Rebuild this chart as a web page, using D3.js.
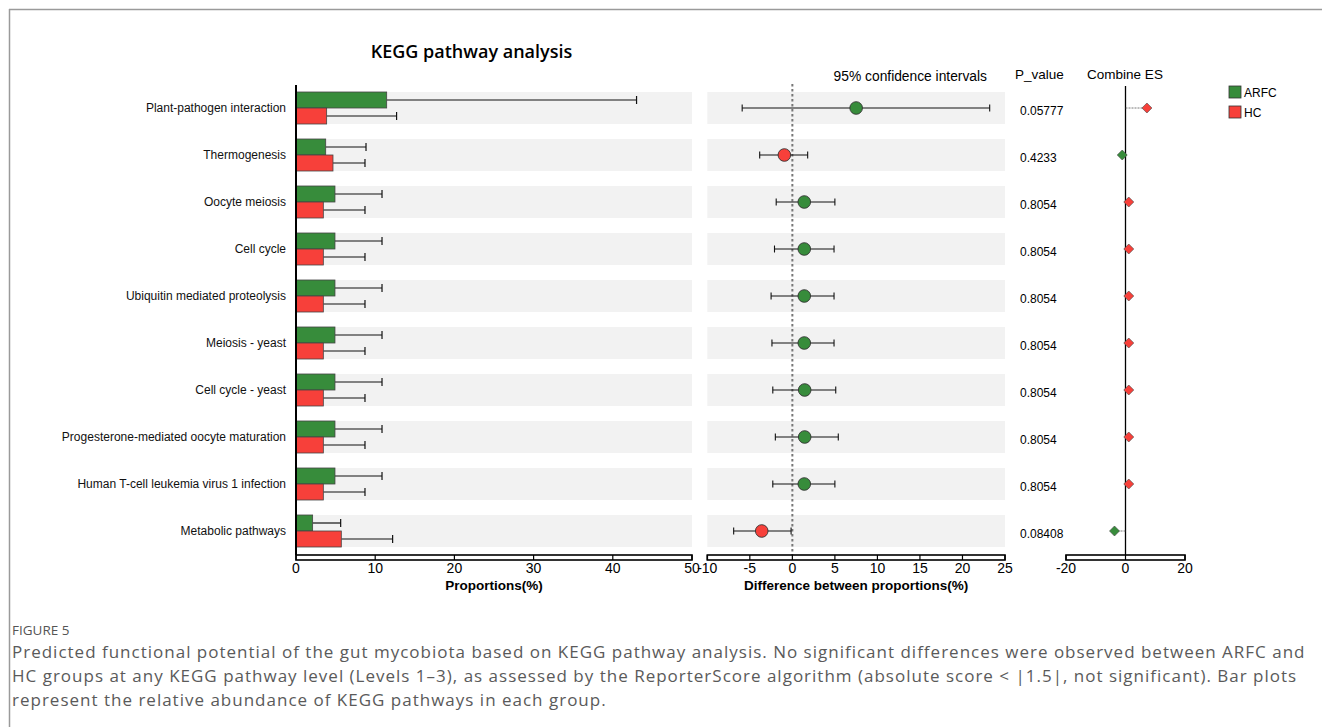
<!DOCTYPE html>
<html>
<head>
<meta charset="utf-8">
<script src="https://cdn.jsdelivr.net/npm/d3@7"></script>
<style>
  html, body { margin: 0; padding: 0; background: #fff; }
  svg { display: block; }
</style>
</head>
<body>
<svg id="chart" width="1322" height="727"></svg>
<script>
// KEGG pathways (top to bottom)
const categories = [
  "Plant-pathogen interaction",
  "Thermogenesis",
  "Oocyte meiosis",
  "Cell cycle",
  "Ubiquitin mediated proteolysis",
  "Meiosis - yeast",
  "Cell cycle - yeast",
  "Progesterone-mediated oocyte maturation",
  "Human T-cell leukemia virus 1 infection",
  "Metabolic pathways"
];
const groups = ["ARFC", "HC"];

// Mean proportions (%) and upper error (%) per group
const arfcMean = [11.45, 3.75, 4.92, 4.92, 4.92, 4.92, 4.92, 4.92, 4.92, 2.1];
const arfcErr  = [43.0, 8.84, 10.86, 10.86, 10.86, 10.86, 10.86, 10.86, 10.86, 5.64];
const hcMean   = [3.87, 4.67, 3.45, 3.45, 3.45, 3.45, 3.45, 3.45, 3.45, 5.72];
const hcErr    = [12.7, 8.71, 8.71, 8.71, 8.71, 8.71, 8.71, 8.71, 8.71, 12.2];

// Difference between proportions with 95% confidence interval
const diffEst   = [7.5, -0.94, 1.4, 1.4, 1.4, 1.4, 1.45, 1.45, 1.4, -3.6];
const diffLower = [-5.9, -3.84, -1.9, -2.1, -2.5, -2.4, -2.3, -2.0, -2.3, -6.9];
const diffUpper = [23.2, 1.8, 5.0, 4.9, 4.9, 4.9, 5.1, 5.4, 5.0, -0.15];

const pValues = ["0.05777", "0.4233", "0.8054", "0.8054", "0.8054", "0.8054", "0.8054", "0.8054", "0.8054", "0.08408"];

// Combined effect size
const combineES = [7.2, -1.1, 1.1, 1.1, 1.1, 1.1, 1.1, 1.1, 1.1, -3.7];

const propTicks = [0, 10, 20, 30, 40, 50];
const diffTicks = [-10, -5, 0, 5, 10, 15, 20, 25];
const esTicks = [-20, 0, 20];

const captionLines = [
  "Predicted functional potential of the gut mycobiota based on KEGG pathway analysis. No significant differences were observed between ARFC and",
  "HC groups at any KEGG pathway level (Levels 1\u20133), as assessed by the ReporterScore algorithm (absolute score < |1.5|, not significant). Bar plots",
  "represent the relative abundance of KEGG pathways in each group."
];

const GREEN = "#378c3b", RED = "#f7403a", BAND = "#f2f2f2";
const FONT = "'Liberation Sans', Arial, sans-serif";

const svg = d3.select("#chart");

// Page frame
svg.append("line").attr("x1", 9).attr("x2", 1322).attr("y1", 9.5).attr("y2", 9.5)
  .attr("stroke", "#9a9a9a").attr("stroke-width", 1.5);
svg.append("line").attr("x1", 9.5).attr("x2", 9.5).attr("y1", 9).attr("y2", 727)
  .attr("stroke", "#9a9a9a").attr("stroke-width", 1.5);

// Shared row scale
const pad = 15 / 47;
const y = d3.scaleBand().domain(categories).range([84.5, 554.5])
  .paddingInner(pad).paddingOuter(pad / 2);
const bw = y.bandwidth();

const axisTop = 555, axisH = 5;

function boxAxis(g, x, ticks, fmt) {
  const [r0, r1] = x.range();
  g.append("rect").attr("x", r0).attr("y", axisTop).attr("width", r1 - r0).attr("height", axisH)
    .attr("fill", "#fff").attr("stroke", "#000").attr("stroke-width", 1.6);
  g.selectAll(".tk").data(ticks).join("line")
    .attr("x1", d => x(d)).attr("x2", d => x(d))
    .attr("y1", axisTop).attr("y2", axisTop + axisH)
    .attr("stroke", "#000").attr("stroke-width", 1.2);
  g.selectAll(".tl").data(ticks).join("text")
    .attr("x", d => x(d)).attr("y", axisTop + 18)
    .attr("text-anchor", "middle").attr("font-family", FONT).attr("font-size", 14)
    .text(fmt || (d => d));
}

// ---------- Left panel: proportions ----------
const xP = d3.scaleLinear().domain([0, 50]).range([296, 692]);
const gL = svg.append("g");

gL.selectAll(".band").data(categories).join("rect")
  .attr("x", xP(0)).attr("width", xP(50) - xP(0))
  .attr("y", d => y(d)).attr("height", bw).attr("fill", BAND);

const barRows = categories.map((c, i) => [
  { cat: c, g: 0, mean: arfcMean[i], err: arfcErr[i] },
  { cat: c, g: 1, mean: hcMean[i], err: hcErr[i] }
]).flat();

gL.selectAll(".errl").data(barRows).join("line")
  .attr("x1", d => xP(d.mean)).attr("x2", d => xP(d.err))
  .attr("y1", d => y(d.cat) + bw / 4 + d.g * bw / 2)
  .attr("y2", d => y(d.cat) + bw / 4 + d.g * bw / 2)
  .attr("stroke", "#111").attr("stroke-width", 1.2);
gL.selectAll(".errc").data(barRows).join("line")
  .attr("x1", d => xP(d.err)).attr("x2", d => xP(d.err))
  .attr("y1", d => y(d.cat) + bw / 4 + d.g * bw / 2 - 4)
  .attr("y2", d => y(d.cat) + bw / 4 + d.g * bw / 2 + 4)
  .attr("stroke", "#111").attr("stroke-width", 1.2);

gL.selectAll(".bar").data(barRows).join("rect")
  .attr("x", xP(0)).attr("width", d => xP(d.mean) - xP(0))
  .attr("y", d => y(d.cat) + d.g * bw / 2).attr("height", bw / 2)
  .attr("fill", d => d.g === 0 ? GREEN : RED)
  .attr("stroke", "#444").attr("stroke-width", 0.8);

// Vertical category axis
gL.append("line").attr("x1", 296).attr("x2", 296).attr("y1", 85).attr("y2", axisTop)
  .attr("stroke", "#000").attr("stroke-width", 2);
gL.selectAll(".cl").data(categories).join("text")
  .attr("x", 286).attr("y", d => y(d) + bw / 2 + 4)
  .attr("text-anchor", "end").attr("font-family", FONT).attr("font-size", 12)
  .attr("fill", "#111").text(d => d);

boxAxis(gL, xP, propTicks);
gL.append("text").attr("x", (xP(0) + xP(50)) / 2).attr("y", 590)
  .attr("text-anchor", "middle").attr("font-family", FONT).attr("font-size", 13.5)
  .attr("font-weight", "bold").text("Proportions(%)");

// Title
svg.append("text").attr("x", 471.5).attr("y", 58).attr("text-anchor", "middle")
  .attr("font-family", "'Open Sans', sans-serif").attr("font-weight", 600)
  .attr("font-size", 18).attr("fill", "#000").text("KEGG pathway analysis");

// ---------- Middle panel: difference & 95% CI ----------
const xD = d3.scaleLinear().domain([-10, 25]).range([707.3, 1005]);
const gM = svg.append("g");

gM.selectAll(".band").data(categories).join("rect")
  .attr("x", xD(-10)).attr("width", xD(25) - xD(-10))
  .attr("y", d => y(d)).attr("height", bw).attr("fill", BAND);

gM.append("line").attr("x1", xD(0)).attr("x2", xD(0)).attr("y1", 84).attr("y2", axisTop)
  .attr("stroke", "#777").attr("stroke-width", 2).attr("stroke-dasharray", "2.5,2.5");

const ciRows = categories.map((c, i) => ({ cat: c, est: diffEst[i], lo: diffLower[i], hi: diffUpper[i] }));
gM.selectAll(".ci").data(ciRows).join("line")
  .attr("x1", d => xD(d.lo)).attr("x2", d => xD(d.hi))
  .attr("y1", d => y(d.cat) + bw / 2).attr("y2", d => y(d.cat) + bw / 2)
  .attr("stroke", "#111").attr("stroke-width", 1.1);
["lo", "hi"].forEach(k => {
  gM.selectAll(".cap-" + k).data(ciRows).join("line")
    .attr("x1", d => xD(d[k])).attr("x2", d => xD(d[k]))
    .attr("y1", d => y(d.cat) + bw / 2 - 3.5).attr("y2", d => y(d.cat) + bw / 2 + 3.5)
    .attr("stroke", "#111").attr("stroke-width", 1.1);
});
gM.selectAll(".pt").data(ciRows).join("circle")
  .attr("cx", d => xD(d.est)).attr("cy", d => y(d.cat) + bw / 2).attr("r", 6.3)
  .attr("fill", d => d.est >= 0 ? GREEN : RED)
  .attr("stroke", "#333").attr("stroke-width", 0.9);

boxAxis(gM, xD, diffTicks);
gM.append("text").attr("x", (xD(-10) + xD(25)) / 2).attr("y", 590)
  .attr("text-anchor", "middle").attr("font-family", FONT).attr("font-size", 13.5)
  .attr("font-weight", "bold").text("Difference between proportions(%)");
gM.append("text").attr("x", 987).attr("y", 81).attr("text-anchor", "end")
  .attr("font-family", FONT).attr("font-size", 13.8).text("95% confidence intervals");

// ---------- P values ----------
svg.append("text").attr("x", 1015).attr("y", 79).attr("font-family", FONT)
  .attr("font-size", 13.5).text("P_value");
svg.selectAll(".pv").data(categories).join("text")
  .attr("x", 1020).attr("y", (d, i) => y(d) + bw / 2 + 7)
  .attr("font-family", FONT).attr("font-size", 12).text((d, i) => pValues[i]);

// ---------- Combined effect size ----------
const xE = d3.scaleLinear().domain([-20, 20]).range([1066, 1185]);
const gE = svg.append("g");
gE.append("text").attr("x", 1125).attr("y", 79).attr("text-anchor", "middle")
  .attr("font-family", FONT).attr("font-size", 13.5).text("Combine ES");
gE.append("line").attr("x1", xE(0)).attr("x2", xE(0)).attr("y1", 86).attr("y2", axisTop)
  .attr("stroke", "#000").attr("stroke-width", 1.3);

const esRows = categories.map((c, i) => ({ cat: c, es: combineES[i] }));
gE.selectAll(".esl").data(esRows).join("line")
  .attr("x1", xE(0)).attr("x2", d => xE(d.es))
  .attr("y1", d => y(d.cat) + bw / 2).attr("y2", d => y(d.cat) + bw / 2)
  .attr("stroke", "#555").attr("stroke-width", 0.8).attr("stroke-dasharray", "2,1");
gE.selectAll(".dm").data(esRows).join("path")
  .attr("transform", d => `translate(${xE(d.es)},${y(d.cat) + bw / 2})`)
  .attr("d", "M0,-5L5,0L0,5L-5,0Z")
  .attr("fill", d => d.es >= 0 ? RED : GREEN)
  .attr("stroke", "#444").attr("stroke-width", 0.6);

boxAxis(gE, xE, esTicks);

// ---------- Legend ----------
const lg = svg.append("g").attr("transform", "translate(1229,86)");
lg.selectAll("rect").data(groups).join("rect")
  .attr("x", 0).attr("y", (d, i) => i * 20).attr("width", 12).attr("height", 12)
  .attr("fill", (d, i) => i === 0 ? GREEN : RED).attr("stroke", "#333").attr("stroke-width", 0.8);
lg.selectAll("text").data(groups).join("text")
  .attr("x", 15).attr("y", (d, i) => i * 20 + 10.5)
  .attr("font-family", FONT).attr("font-size", 12).text(d => d);

// ---------- Caption ----------
svg.append("text").attr("x", 12).attr("y", 635)
  .attr("font-family", "'Open Sans', sans-serif").attr("font-size", 13.5)
  .attr("fill", "#555").text("FIGURE 5");
svg.selectAll(".cap").data(captionLines).join("text")
  .attr("x", 12).attr("y", (d, i) => 658 + i * 24)
  .attr("font-family", "'Open Sans', sans-serif").attr("font-size", 17)
  .attr("letter-spacing", 1.0)
  .attr("fill", "#5a5a5a").text(d => d);
</script>
</body>
</html>
